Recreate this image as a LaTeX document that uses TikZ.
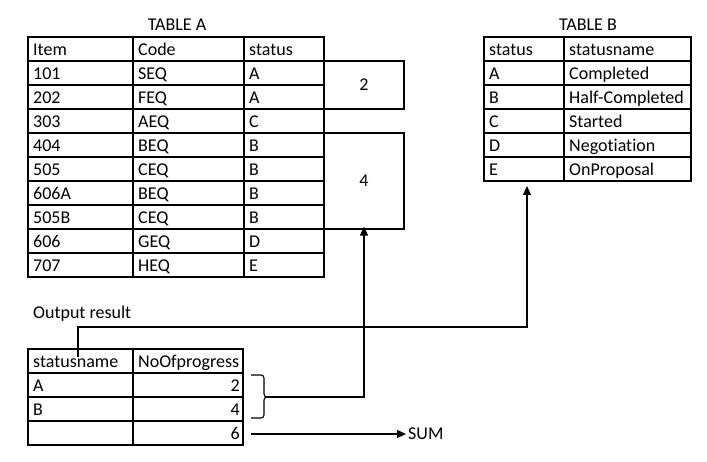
\documentclass[tikz,border=0pt]{standalone}
\usepackage{fontspec}
\setmainfont{Carlito}[Ligatures=CommonOff]
\usetikzlibrary{arrows.meta}
\newcommand{\cellfont}{\fontsize{18}{21}\selectfont}
\begin{document}
\begin{tikzpicture}[x=1pt,y=-1pt,
  gridline/.style={draw=black, line width=1.1pt},
  conn/.style={draw=black, line width=1.1pt},
  tipped/.style={conn, -{Triangle[length=9pt,width=8pt]}},
  cell/.style={anchor=base west, inner sep=0pt, font=\cellfont},
  num/.style={anchor=base east, inner sep=0pt, font=\cellfont},
  label/.style={inner sep=0pt, font=\cellfont}]
\useasboundingbox (0,0) rectangle (707,462);
\fill[white] (0,0) rectangle (707,462);

% ---- Table A
\node[label] (titleA) at (177,25) {TABLE A};
\draw[gridline] (28,37) rectangle (324,277);
\foreach \y in {61,85,...,253} \draw[gridline] (28,\y) -- (324,\y);
\foreach \x in {133,244} \draw[gridline] (\x,37) -- (\x,277);
\foreach \a/\b/\c [count=\i] in {Item/Code/status,101/SEQ/A,202/FEQ/A,303/AEQ/C,404/BEQ/B,505/CEQ/B,606A/BEQ/B,505B/CEQ/B,606/GEQ/D,707/HEQ/E}{
  \pgfmathsetmacro\yb{37+24*\i-5.5}
  \node[cell] (ta-\i-1) at (33,\yb) {\a};
  \node[cell] (ta-\i-2) at (138,\yb) {\b};
  \node[cell] (ta-\i-3) at (249,\yb) {\c};
}
\node[gridline, minimum width=80pt, minimum height=48pt, inner sep=0pt, font=\cellfont] (box2) at (364,85) {2};
\node[gridline, minimum width=80pt, minimum height=96pt, inner sep=0pt, font=\cellfont] (box4) at (364,181) {4};

% ---- Table B
\node[label] (titleB) at (588,25) {TABLE B};
\draw[gridline] (484,37) rectangle (691,181);
\foreach \y in {61,85,...,157} \draw[gridline] (484,\y) -- (691,\y);
\draw[gridline] (564,37) -- (564,181);
\foreach \a/\b [count=\i] in {status/statusname,A/Completed,B/Half-Completed,C/Started,D/Negotiation,E/OnProposal}{
  \pgfmathsetmacro\yb{37+24*\i-5.5}
  \node[cell] (tb-\i-1) at (489,\yb) {\a};
  \node[cell] (tb-\i-2) at (569,\yb) {\b};
}
\coordinate (tbin) at (527,186);

% ---- Output table
\node[anchor=west, inner sep=0pt, font=\cellfont] (outlabel) at (33,314) {Output result};
\draw[gridline] (28,349) rectangle (243,445);
\foreach \y in {373,397,421} \draw[gridline] (28,\y) -- (243,\y);
\draw[gridline] (133,349) -- (133,445);
\node[cell] (to-1-1) at (33,367.5) {statusname};
\node[cell] (to-1-2) at (138,367.5) {NoOfprogress};
\node[cell] (to-2-1) at (33,391.5) {A};
\node[num]  (to-2-2) at (240,391.5) {2};
\node[cell] (to-3-1) at (33,415.5) {B};
\node[num]  (to-3-2) at (240,415.5) {4};
\node[num]  (to-4-2) at (240,439.5) {6};

% ---- brace
\coordinate (bracetip) at (268,397);
\draw[conn, rounded corners=3pt] (251,375) -- (264,375) -- (264,397) -- (bracetip);
\draw[conn, rounded corners=3pt] (251,418) -- (264,418) -- (264,397) -- (bracetip);

% ---- connectors
\draw[tipped] (bracetip) -| ([yshift=3pt]box4.south);
\coordinate (ostart) at (78,357);
\draw[tipped] (ostart) -- ++(0,-30) -| (tbin);
\coordinate (sumstart) at (251,434);
\node[anchor=west, inner sep=0pt, font=\cellfont] (sum) at (408,434) {SUM};
\draw[tipped] (sumstart) -- ([xshift=-2pt]sum.west);
\end{tikzpicture}
\end{document}
